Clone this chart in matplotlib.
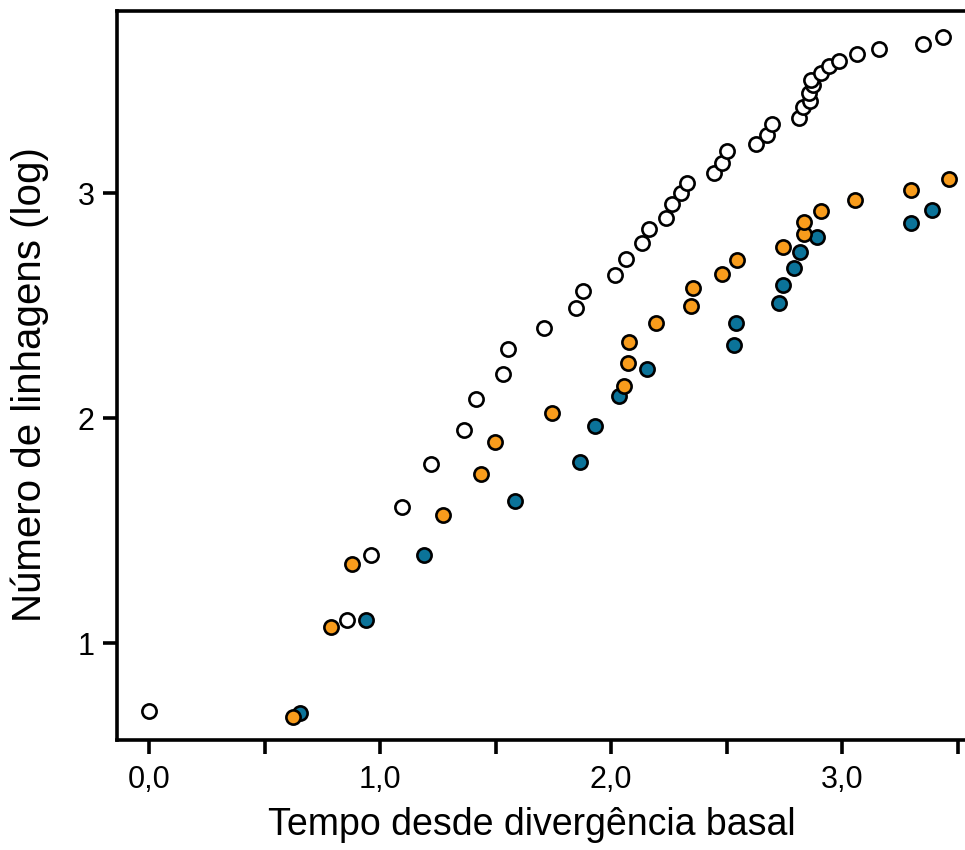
import matplotlib
matplotlib.use('Agg')
import matplotlib.pyplot as plt

plt.rcParams['font.family'] = ['Liberation Sans', 'DejaVu Sans']

# all lineages (open circles)
x_all = [0.000, 0.857, 0.961, 1.095, 1.221, 1.364, 1.416, 1.532, 1.554, 1.710,
         1.848, 1.879, 2.017, 2.065, 2.134, 2.165, 2.238, 2.264, 2.303, 2.329,
         2.446, 2.481, 2.502, 2.628, 2.675, 2.697, 2.814, 2.831, 2.861, 2.857,
         2.874, 2.866, 2.909, 2.944, 2.987, 3.065, 3.160, 3.351, 3.437]
y_all = [0.698, 1.102, 1.391, 1.604, 1.796, 1.947, 2.084, 2.196, 2.307, 2.400,
         2.489, 2.564, 2.636, 2.707, 2.778, 2.840, 2.889, 2.951, 3.000, 3.044,
         3.089, 3.133, 3.187, 3.218, 3.258, 3.307, 3.333, 3.382, 3.409, 3.444,
         3.480, 3.502, 3.533, 3.564, 3.587, 3.618, 3.640, 3.662, 3.693]

# orange group
x_or = [0.623, 0.788, 0.879, 1.273, 1.437, 1.498, 1.745, 2.056, 2.074, 2.078,
        2.195, 2.346, 2.355, 2.481, 2.545, 2.745, 2.835, 2.835, 2.909, 3.056,
        3.299, 3.463]
y_or = [0.671, 1.071, 1.351, 1.569, 1.751, 1.893, 2.022, 2.142, 2.244, 2.338,
        2.422, 2.498, 2.578, 2.640, 2.702, 2.760, 2.818, 2.871, 2.920, 2.969,
        3.013, 3.062]

# blue group
x_bl = [0.654, 0.939, 1.190, 1.584, 1.866, 1.931, 2.035, 2.156, 2.532, 2.541,
        2.727, 2.745, 2.792, 2.818, 2.892, 3.299, 3.390]
y_bl = [0.689, 1.102, 1.391, 1.631, 1.804, 1.964, 2.098, 2.218, 2.324, 2.422,
        2.511, 2.591, 2.667, 2.738, 2.804, 2.867, 2.924]

xticks = [0.0, 0.5, 1.0, 1.5, 2.0, 2.5, 3.0, 3.5]
xticklabels = ['0,0', '', '1,0', '', '2,0', '', '3,0', '']
yticks = [1, 2, 3]

fig = plt.figure(figsize=(9.65, 8.5), dpi=100)
ax = fig.add_axes([0.1212, 0.1294, 0.919, 0.8576])

ms = 105
lw = 1.9
ax.scatter(x_all, y_all, s=ms, facecolor='white', edgecolor='black', linewidth=lw, zorder=3, clip_on=False)
ax.scatter(x_bl, y_bl, s=ms, facecolor='#0B7399', edgecolor='black', linewidth=lw, zorder=4, clip_on=False)
ax.scatter(x_or, y_or, s=ms, facecolor='#F89C1C', edgecolor='black', linewidth=lw, zorder=5, clip_on=False)

ax.set_xlim(-0.139, 3.7)
ax.set_ylim(0.569, 3.809)
ax.set_xticks(xticks)
ax.set_xticklabels(xticklabels)
ax.set_yticks(yticks)
ax.set_yticklabels([str(v) for v in yticks])

for s in ax.spines.values():
    s.set_linewidth(2.6)
ax.tick_params(axis='both', width=2.6, length=10, labelsize=22, color='black')
ax.tick_params(axis='x', pad=8)
ax.tick_params(axis='y', pad=6)

fig.text(532 / 965, 1 - 835 / 850, 'Tempo desde divergência basal', fontsize=27,
         ha='center', va='baseline')
fig.text(30 / 965, 1 - 385 / 850, 'Número de linhagens (log)', fontsize=29,
         rotation=90, ha='center', va='center')

fig.savefig('out.png', dpi=100)
